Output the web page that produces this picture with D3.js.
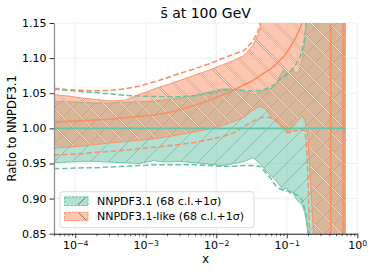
<!DOCTYPE html>
<html>
<head>
<meta charset="utf-8">
<script src="https://cdn.jsdelivr.net/npm/d3@7"></script>
<style>
body { margin: 0; background: #fff; }
text { font-family: "DejaVu Sans", sans-serif; fill: #000; }
</style>
</head>
<body>
<div id="chart"></div>
<script>
// x grid shared by every curve
var xs = [5e-5, 8e-5, 1.3e-4, 2e-4, 3e-4, 5e-4, 8e-4, 1.3e-3, 2e-3, 3e-3,
          5e-3, 8e-3, 0.012, 0.018, 0.025, 0.033, 0.042, 0.05, 0.06, 0.07,
          0.08, 0.09, 0.1, 0.11, 0.12, 0.135, 0.15, 0.165, 0.18, 0.19,
          0.2, 0.21, 0.22, 0.24, 0.27, 0.3, 0.35, 0.419, 0.421, 0.5,
          0.625, 0.63, 0.67];

// NNPDF3.1 (reference, ratio = 1)
var greenCentral = [1,1,1,1,1,1,1,1,1,1, 1,1,1,1,1,1,1,1,1,1, 1,1,1,1,1,1,1,1,1,1, 1,1,1,1,1,1,1,1,1,1, 1,1,1];
var greenHi = [1.038,1.038,1.037,1.036,1.036,1.037,1.038,1.039,1.041,1.043,
               1.047,1.052,1.056,1.056,1.053,1.048,1.052,1.056,1.057,1.062,
               1.075,1.083,1.078,1.080,1.086,1.078,1.082,1.100,1.125,1.160,
               1.6,1.6,1.6,1.6,1.6,1.6,1.6,1.6,1.6,1.6, 1.6,1.6,1.6];
var greenLo = [0.951,0.952,0.953,0.953,0.952,0.951,0.950,0.954,0.952,0.953,
               0.951,0.949,0.947,0.950,0.953,0.958,0.950,0.940,0.932,0.926,
               0.918,0.913,0.915,0.907,0.910,0.900,0.895,0.892,0.880,0.868,
               0.850,0.4,0.4,0.4,0.4,0.4,0.4,0.4,0.4,0.4, 0.4,0.4,0.4];
var greenUp1s = [1.0555,1.054,1.052,1.051,1.049,1.047,1.046,1.0455,1.045,1.045,
                 1.0465,1.050,1.054,1.055,1.054,1.053,1.054,1.056,1.059,1.064,
                 1.070,1.073,1.076,1.080,1.084,1.091,1.099,1.110,1.130,1.150,
                 1.6,1.6,1.6,1.6,1.6,1.6,1.6,1.6,1.6,1.6, 1.6,1.6,1.6];
var greenDn1s = [0.943,0.943,0.944,0.944,0.945,0.946,0.947,0.948,0.948,0.948,
                 0.948,0.947,0.946,0.946,0.947,0.947,0.946,0.937,0.928,0.918,
                 0.914,0.912,0.911,0.910,0.909,0.906,0.903,0.898,0.885,0.870,
                 0.850,0.4,0.4,0.4,0.4,0.4,0.4,0.4,0.4,0.4, 0.4,0.4,0.4];

// NNPDF3.1-like
var orangeCentral = [1.009,1.010,1.011,1.012,1.013,1.015,1.017,1.019,1.022,1.026,
                     1.033,1.040,1.047,1.055,1.062,1.068,1.075,1.080,1.085,1.091,
                     1.097,1.102,1.108,1.114,1.121,1.130,1.140,1.150,1.165,1.200,
                     1.6,1.6,1.6,1.6,1.6,1.6,1.6,1.6,0.4,0.4, 0.4,1.6,1.6];
var orangeHi = [1.048,1.046,1.043,1.041,1.039,1.040,1.048,1.056,1.062,1.068,
                1.076,1.083,1.090,1.097,1.104,1.118,1.140,1.6,1.6,1.6,
                1.6,1.6,1.6,1.6,1.6,1.6,1.6,1.6,1.6,1.6,
                1.6,1.6,1.6,1.6,1.6,1.6,1.6,1.6,1.6,1.6, 1.6,1.6,1.6];
var orangeLo = [0.972,0.973,0.975,0.977,0.979,0.981,0.983,0.985,0.988,0.991,
                0.995,0.999,1.004,1.010,1.016,1.026,1.031,1.028,1.016,1.010,
                1.004,1.000,0.996,0.993,1.000,1.008,1.013,1.017,1.012,0.998,
                0.988,0.945,0.915,0.845,0.4,0.4,0.4,0.4,0.4,0.4, 0.4,0.4,0.4];
var orangeUp1s = [1.057,1.055,1.054,1.0535,1.054,1.056,1.060,1.066,1.072,1.078,
                  1.085,1.092,1.099,1.106,1.111,1.124,1.145,1.6,1.6,1.6,
                  1.6,1.6,1.6,1.6,1.6,1.6,1.6,1.6,1.6,1.6,
                  1.6,1.6,1.6,1.6,1.6,1.6,1.6,1.6,1.6,1.6, 1.6,1.6,1.6];
var orangeDn1s = [0.962,0.963,0.964,0.966,0.967,0.969,0.971,0.973,0.975,0.977,
                  0.980,0.984,0.988,0.994,1.003,1.010,1.015,1.016,1.015,1.012,
                  1.007,1.001,0.994,0.994,0.996,0.997,0.997,0.998,0.997,0.980,
                  0.930,0.850,0.4,0.4,0.4,0.4,0.4,0.4,0.4,0.4, 0.4,0.4,0.4];

var yTicks = [0.85, 0.90, 0.95, 1.00, 1.05, 1.10, 1.15];
var xTicks = [1e-4, 1e-3, 1e-2, 1e-1, 1];
var xTickExp = ["\u22124", "\u22123", "\u22122", "\u22121", "0"];
var legendLabels = ["NNPDF3.1 (68 c.l.+1\u03c3)", "NNPDF3.1-like (68 c.l.+1\u03c3)"];

var green = "#66c2a5", orange = "#fc8d62";

// set the dimensions and margins of the graph
var margin = {top: 23, right: 16.7, bottom: 41.3, left: 54},
    W = 374, H = 275,
    width = W - margin.left - margin.right,
    height = H - margin.top - margin.bottom;

var x = d3.scaleLog().domain([5e-5, 1]).range([margin.left, margin.left + width]);
var y = d3.scaleLinear().domain([0.85, 1.15]).range([margin.top + height, margin.top]);

var svg = d3.select("#chart").append("svg")
    .attr("width", W)
    .attr("height", H);

var defs = svg.append("defs");
defs.append("clipPath").attr("id", "plotclip")
  .append("rect")
    .attr("x", margin.left).attr("y", margin.top)
    .attr("width", width).attr("height", height);

// hatch patterns
var s = 18;
var pg = defs.append("pattern").attr("id", "hatchGreen")
    .attr("patternUnits", "userSpaceOnUse").attr("width", s).attr("height", s);
pg.append("path")
    .attr("d", "M-2,2 L2,-2 M0," + s + " L" + s + ",0 M" + (s - 2) + "," + (s + 2) + " L" + (s + 2) + "," + (s - 2))
    .attr("stroke", "#4f8f7a").attr("stroke-opacity", 0.6).attr("stroke-width", 0.7);

var po = defs.append("pattern").attr("id", "hatchOrange")
    .attr("patternUnits", "userSpaceOnUse").attr("width", s).attr("height", s);
var dBack = "M-2," + (s - 2) + " L2," + (s + 2) + " M0,0 L" + s + "," + s + " M" + (s - 2) + ",-2 L" + (s + 2) + ",2";
po.append("path").attr("d", dBack)
    .attr("stroke", orange).attr("stroke-opacity", 0.8).attr("stroke-width", 2.2);
po.append("path").attr("d", dBack)
    .attr("stroke", "#fff3ec").attr("stroke-opacity", 0.9).attr("stroke-width", 0.9);

// grid
var grid = svg.append("g");
grid.selectAll(".gy").data(yTicks).enter().append("line")
    .attr("x1", margin.left).attr("x2", margin.left + width)
    .attr("y1", function(d) { return y(d); }).attr("y2", function(d) { return y(d); })
    .attr("stroke", "#ebebeb").attr("stroke-width", 0.8);
grid.selectAll(".gx").data(xTicks).enter().append("line")
    .attr("x1", function(d) { return x(d); }).attr("x2", function(d) { return x(d); })
    .attr("y1", margin.top).attr("y2", margin.top + height)
    .attr("stroke", "#ebebeb").attr("stroke-width", 0.8);

var idx = d3.range(xs.length);
function band(lo, hi) {
  return d3.area()
    .x(function(i) { return x(xs[i]); })
    .y0(function(i) { return y(lo[i]); })
    .y1(function(i) { return y(hi[i]); })(idx);
}
function curve(v) {
  return d3.line()
    .x(function(i) { return x(xs[i]); })
    .y(function(i) { return y(v[i]); })(idx);
}

var plot = svg.append("g").attr("clip-path", "url(#plotclip)");

// bands
[[greenLo, greenHi, green, "hatchGreen"], [orangeLo, orangeHi, orange, "hatchOrange"]].forEach(function(b) {
  var d = band(b[0], b[1]);
  plot.append("path").attr("d", d).attr("fill", b[2]).attr("fill-opacity", 0.5);
  plot.append("path").attr("d", d).attr("fill", "url(#" + b[3] + ")");
  plot.append("path").attr("d", d).attr("fill", "none")
      .attr("stroke", b[2]).attr("stroke-width", 1).attr("stroke-opacity", 0.9);
});

// 1 sigma dashed lines
[[greenUp1s, green], [greenDn1s, green], [orangeUp1s, orange], [orangeDn1s, orange]].forEach(function(c) {
  plot.append("path").attr("d", curve(c[0])).attr("fill", "none")
      .attr("stroke", c[1]).attr("stroke-width", 1.5).attr("stroke-dasharray", "5.5,2.6");
});

// central values
plot.append("path").attr("d", curve(orangeCentral)).attr("fill", "none")
    .attr("stroke", orange).attr("stroke-width", 1.6);
plot.append("path").attr("d", curve(greenCentral)).attr("fill", "none")
    .attr("stroke", green).attr("stroke-width", 1.6);

// Add the Y Axis
var yAxis = svg.append("g")
    .attr("transform", "translate(" + margin.left + ",0)")
    .call(d3.axisLeft(y).tickValues(yTicks).tickFormat(d3.format(".2f"))
          .tickSize(4.5).tickSizeOuter(0).tickPadding(3));
yAxis.select(".domain").attr("stroke", "#8a8a8a").attr("stroke-width", 1.2);
yAxis.selectAll(".tick line").attr("stroke", "#333").attr("stroke-width", 1);
yAxis.selectAll("text").style("font-size", "11px").style("font-family", "DejaVu Sans");

// Add the X Axis (minor + major)
var minor = [];
for (var e = -5; e < 0; e++) {
  for (var m = 2; m <= 9; m++) {
    var v = m * Math.pow(10, e);
    if (v >= 5e-5 && v <= 1) minor.push(v);
  }
}
svg.append("g")
    .attr("transform", "translate(0," + (margin.top + height) + ")")
    .call(d3.axisBottom(x).tickValues(minor).tickFormat("").tickSize(2.5).tickSizeOuter(0))
    .call(function(g) { g.select(".domain").remove(); g.selectAll("line").attr("stroke", "#333").attr("stroke-width", 0.8); });

var xAxis = svg.append("g")
    .attr("transform", "translate(0," + (margin.top + height) + ")")
    .call(d3.axisBottom(x).tickValues(xTicks).tickSize(4.5).tickSizeOuter(0).tickPadding(3.5)
          .tickFormat(function() { return ""; }));
xAxis.select(".domain").attr("stroke", "#222").attr("stroke-width", 1.1);
xAxis.selectAll(".tick line").attr("stroke", "#333").attr("stroke-width", 1);
xAxis.selectAll(".tick text").each(function(d, i) {
  var t = d3.select(this).style("font-size", "11px").style("font-family", "DejaVu Sans");
  t.append("tspan").text("10");
  t.append("tspan").text(xTickExp[i]).attr("dy", "-0.45em").style("font-size", "7.7px");
});

// title and axis labels
svg.append("text")
    .attr("x", margin.left + width / 2).attr("y", 18.3)
    .attr("text-anchor", "middle").style("font-size", "14px")
    .text("s\u0304 at 100 GeV");

svg.append("text")
    .attr("transform", "translate(16," + (margin.top + height / 2) + ") rotate(-90)")
    .attr("text-anchor", "middle").style("font-size", "11.5px")
    .text("Ratio to NNPDF3.1");

svg.append("text")
    .attr("x", margin.left + width / 2).attr("y", 263.3)
    .attr("text-anchor", "middle").style("font-size", "11.5px")
    .text("x");

// legend
var leg = svg.append("g").attr("transform", "translate(60,191.7)");
leg.append("rect").attr("width", 194).attr("height", 36).attr("rx", 3)
    .attr("fill", "#fff").attr("fill-opacity", 0.85)
    .attr("stroke", "#d0d0d0").attr("stroke-width", 0.8);
var legColors = [green, orange];
legendLabels.forEach(function(lab, i) {
  var cy = 9.5 + i * 15.3;
  var g = leg.append("g").attr("transform", "translate(4.7," + (cy - 4.3) + ")");
  g.append("rect").attr("width", 23.3).attr("height", 8.6)
      .attr("fill", legColors[i]).attr("fill-opacity", 0.5)
      .attr("stroke", legColors[i]).attr("stroke-width", 1.1).attr("stroke-dasharray", "2.4,1.2");
  if (i === 0) {
    g.append("line").attr("x1", 13).attr("y1", 8).attr("x2", 21).attr("y2", 0.6)
        .attr("stroke", "#666").attr("stroke-width", 0.9);
  } else {
    g.append("line").attr("x1", 14).attr("y1", 0.6).attr("x2", 21.5).attr("y2", 8)
        .attr("stroke", "#666").attr("stroke-width", 0.9);
  }
  leg.append("text").attr("x", 37).attr("y", cy + 4)
      .style("font-size", "11px").text(lab);
});
</script>
</body>
</html>
